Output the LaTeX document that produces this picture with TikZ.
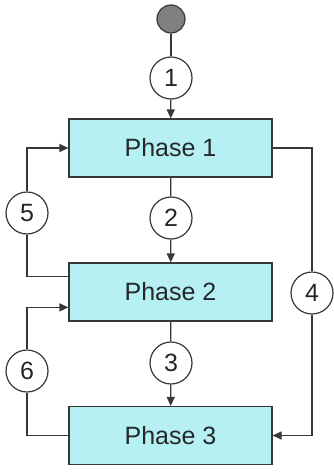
\documentclass[tikz,border=0pt]{standalone}
\usepackage{fontspec}
\setmainfont{Liberation Sans}
\usetikzlibrary{arrows.meta,calc}
\definecolor{boxfill}{RGB}{182,240,242}
\definecolor{linec}{RGB}{55,55,55}
\definecolor{txt}{RGB}{35,40,40}
\definecolor{startfill}{RGB}{128,128,128}
\begin{document}
\begin{tikzpicture}[x=1pt,y=-1pt,
  phasebox/.style={draw=linec,line width=1.2pt,fill=boxfill,minimum width=203pt,minimum height=58pt,inner sep=0pt,text=txt,font=\fontsize{25}{29}\selectfont},
  numcirc/.style={circle,draw=linec,line width=1.2pt,fill=white,minimum size=42pt,inner sep=0pt,text=txt,font=\fontsize{25}{29}\selectfont},
  startdot/.style={circle,draw=linec,line width=1.2pt,fill=startfill,minimum size=28pt,inner sep=0pt},
  conn/.style={draw=linec,line width=1.2pt},
  arr/.style={conn,-{Triangle[length=9pt,width=8pt]}}]
\useasboundingbox (0,0) rectangle (334,474);
\node[startdot] (start) at (171,19) {};
\node[phasebox] (p1) at (170.5,148) {Phase 1};
\node[phasebox] (p2) at (170.5,292) {Phase 2};
\node[phasebox] (p3) at (170.5,435.5) {Phase 3};
\node[numcirc] (c1) at (171,78) {1};
\node[numcirc] (c2) at (171,218) {2};
\node[numcirc] (c3) at (171,363) {3};
\node[numcirc] (c4) at (312,293) {4};
\node[numcirc] (c5) at (27,213) {5};
\node[numcirc] (c6) at (27,371) {6};
\coordinate (p2a) at ($(p2.north west)!0.24!(p2.south west)$);
\coordinate (p2b) at ($(p2.north west)!0.76!(p2.south west)$);
\coordinate (r1) at (312,148);
\coordinate (r3) at (312,435.5);
% main chain
\draw[conn] (start) -- (c1);
\draw[arr] (c1) -- (p1);
\draw[conn] (p1) -- (c2);
\draw[arr] (c2) -- (p2);
\draw[conn] (p2) -- (c3);
\draw[arr] (c3) -- (p3);
% loop 5
\draw[conn] (p2a) -| (c5);
\draw[arr] (c5) |- (p1.west);
% loop 6
\draw[conn] (p3.west) -| (c6);
\draw[arr] (c6) |- (p2b);
% line 4
\draw[conn] (p1.east) -- (r1) -- (c4);
\draw[arr] (c4) -- (r3) -- (p3.east);
\end{tikzpicture}
\end{document}
